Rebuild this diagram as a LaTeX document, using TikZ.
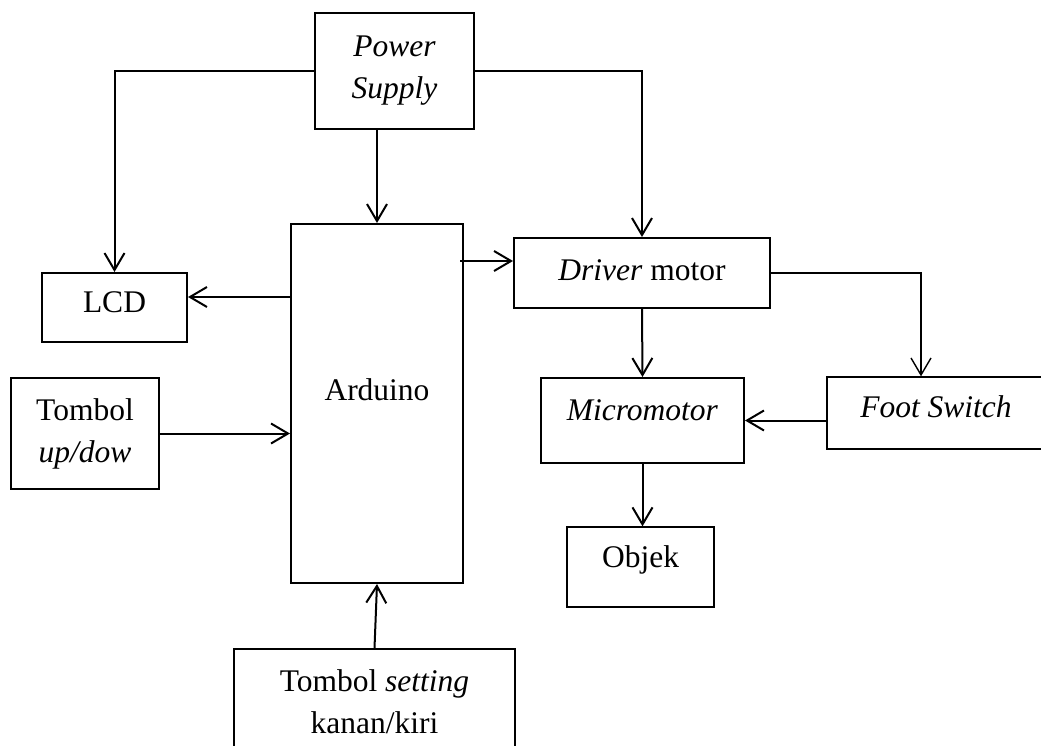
\documentclass[tikz,border=0pt]{standalone}
\usepackage{fontspec}
\setmainfont{Liberation Serif}
\usetikzlibrary{arrows.meta}

\tikzset{
  blok/.style={draw, line width=2pt, inner sep=0pt, align=center,
    font=\fontsize{31.5}{42}\selectfont},
  tipis/.style={blok, line width=1.3pt},
  arr/.style={line width=2pt, -{Straight Barb[length=17pt,width=20pt]}},
}

\begin{document}
\begin{tikzpicture}[x=1pt,y=-1pt]
  \useasboundingbox (0,0) rectangle (1041,746);
  % blok
  \node[blok, minimum width=159pt, minimum height=116pt] (power) at (394.5,71) {\textit{Power}\\\textit{Supply}};
  \node[blok, minimum width=145pt, minimum height=69pt, text depth=11pt] (lcd) at (114.5,307.5) {LCD};
  \node[blok, minimum width=172pt, minimum height=359pt, text depth=27pt] (arduino) at (377,403.5) {Arduino};
  \node[blok, minimum width=148pt, minimum height=111pt] (updown) at (85,433.5) {Tombol\\\textit{up/dow}};
  \node[blok, minimum width=281pt, minimum height=106pt] (setting) at (374.5,702) {Tombol \textit{setting}\\kanan/kiri};
  \node[blok, minimum width=256pt, minimum height=70pt, text depth=6pt] (driver) at (642,273) {\textit{Driver} motor};
  \node[blok, minimum width=203pt, minimum height=85pt, text depth=21pt] (micro) at (642.5,420.5) {\textit{Micromotor}};
  \node[tipis, minimum width=218pt, minimum height=72pt, text depth=12pt] (foot) at (936,413) {\textit{Foot Switch}};
  \node[tipis, minimum width=147pt, minimum height=80pt, text depth=20pt] (objek) at (640.5,567) {Objek};

  % panah
  \draw[arr] (power.west) -| (lcd.north);
  \draw[arr] (power.east) -| (driver.north);
  \draw[arr] (arduino.north |- power.south) -- (arduino.north);
  \coordinate (lcdin) at ([yshift=10.5pt]lcd.east);
  \draw[arr] (lcdin -| arduino.west) -- (lcdin);
  \coordinate (drvin) at ([yshift=12pt]driver.west);
  \draw[arr] (drvin -| arduino.east) ++(-4,0) -- (drvin);
  \draw[arr] (updown.east) -- (updown.east -| arduino.west);
  \draw[arr] (setting.north) -- (arduino.south);
  \draw[arr] (driver.south) -- (micro.north);
  \draw[arr, line width=1.4pt] (driver.east) -| ([xshift=-15pt]foot.north);
  \draw[arr] (foot.west |- micro.east) -- (micro.east);
  \draw[arr] (micro.south) -- (micro.south |- objek.north);
\end{tikzpicture}
\end{document}
